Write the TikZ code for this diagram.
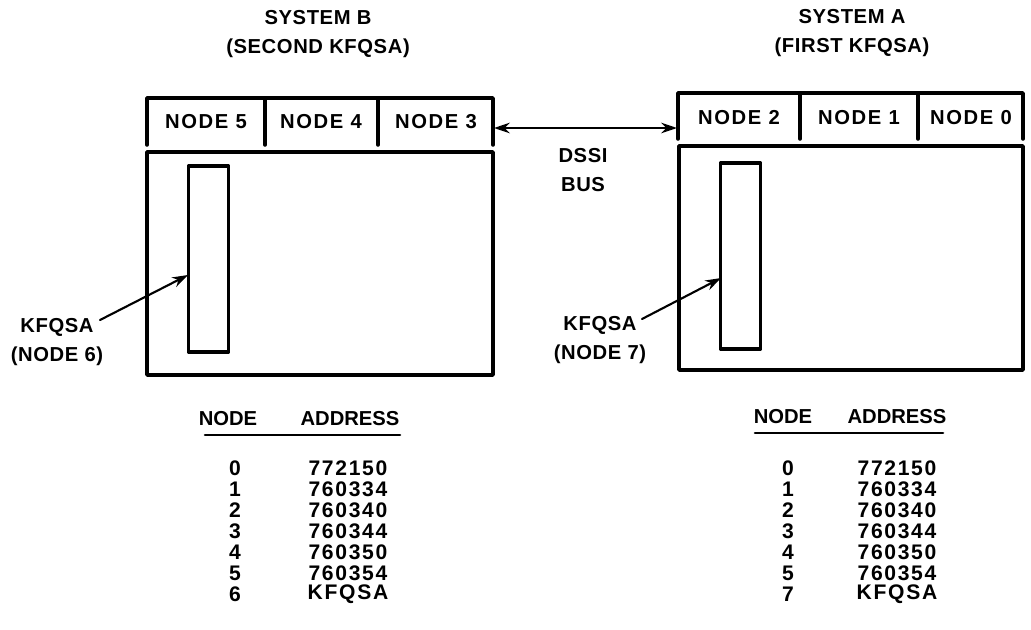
\documentclass[tikz,border=0pt]{standalone}
\usepackage{fontspec}
\setmainfont{Liberation Sans}
\usetikzlibrary{arrows.meta}
\tikzset{
  frame/.style={line width=2pt},
  card/.style={draw, line width=1.8pt, minimum width=0.8cm, minimum height=3.72cm, inner sep=0pt},
  cell/.style={font=\fontsize{11.5}{13}\selectfont\bfseries\addfontfeature{LetterSpace=8}},
  tnum/.style={font=\fontsize{12}{13}\selectfont\bfseries\addfontfeature{LetterSpace=8}},
  lbl/.style={align=center, inner sep=1pt, font=\fontsize{11.5}{17}\selectfont\bfseries\addfontfeature{LetterSpace=3}},
  ptr/.style={-{Stealth[length=9pt,width=6pt]}, line width=1.2pt},
  bus/.style={{Stealth[length=9pt,width=6pt]}-{Stealth[length=9pt,width=6pt]}, line width=1.4pt}
}
\begin{document}
\begin{tikzpicture}[x=0.02cm, y=-0.02cm, font=\fontsize{11.5}{13}\selectfont\bfseries, line join=round, line cap=round]
 \useasboundingbox (0,0) rectangle (1031,629);
 % system B (left)
 \node[lbl] (sysB) at (318,34) {SYSTEM B\\(SECOND KFQSA)};
 \draw[frame] (147,145) |- (493,98) -- (493,145) (265,98)--(265,145) (378,98)--(378,145);
 \node[cell] (n5) at (206,122) {NODE 5};
 \node[cell] (n4) at (321,122) {NODE 4};
 \node[cell] (n3) at (436,122) {NODE 3};
 \draw[frame] (147,152) rectangle (493,375);
 \node[card] (cardB) at (208.5,259) {};
 \node[lbl] (lblB) at (57,342) {KFQSA\\(NODE 6)};
 \coordinate (tipB) at (188,275);
 \draw[ptr] (100,320) -- (tipB);
 % system A (right)
 \node[lbl] (sysA) at (852,33) {SYSTEM A\\(FIRST KFQSA)};
 \draw[frame] (678,139) |- (1023,93) -- (1023,139) (800,93)--(800,139) (918,93)--(918,139);
 \node[cell] (n2) at (739,118) {NODE 2};
 \node[cell] (n1) at (859,118) {NODE 1};
 \node[cell] (n0) at (971,118) {NODE 0};
 \draw[frame] (679,146) rectangle (1023,370);
 \node[card] (cardA) at (740.5,256) {};
 \node[lbl] (lblA) at (600,340) {KFQSA\\(NODE 7)};
 \coordinate (tipA) at (721,278);
 \draw[ptr] (642,319) -- (tipA);
 % DSSI bus
 \coordinate (busB) at (494,128);
 \coordinate (busA) at (677,128);
 \draw[bus] (busB) -- (busA);
 \node[lbl] (dssi) at (583,170) {DSSI\\BUS};
 % address tables
 \node (hnB) at (228,419) {NODE};
 \node (haB) at (350,419) {ADDRESS};
 \draw[line width=1.5pt] (205,435) -- (400,435);
 \foreach \n/\a [count=\k] in {0/772150,1/760334,2/760340,3/760344,4/760350,5/760354,6/KFQSA}{
   \node[tnum] (rnB\k) at (235,{447+21*\k}) {\n};
   \node[tnum] (raB\k) at (348,{447+21*\k}) {\a};
 }
 \node (hnA) at (783,417) {NODE};
 \node (haA) at (897,417) {ADDRESS};
 \draw[line width=1.5pt] (755,433) -- (943,433);
 \foreach \n/\a [count=\k] in {0/772150,1/760334,2/760340,3/760344,4/760350,5/760354,7/KFQSA}{
   \node[tnum] (rnA\k) at (788,{447+21*\k}) {\n};
   \node[tnum] (raA\k) at (897,{447+21*\k}) {\a};
 }
\end{tikzpicture}
\end{document}
